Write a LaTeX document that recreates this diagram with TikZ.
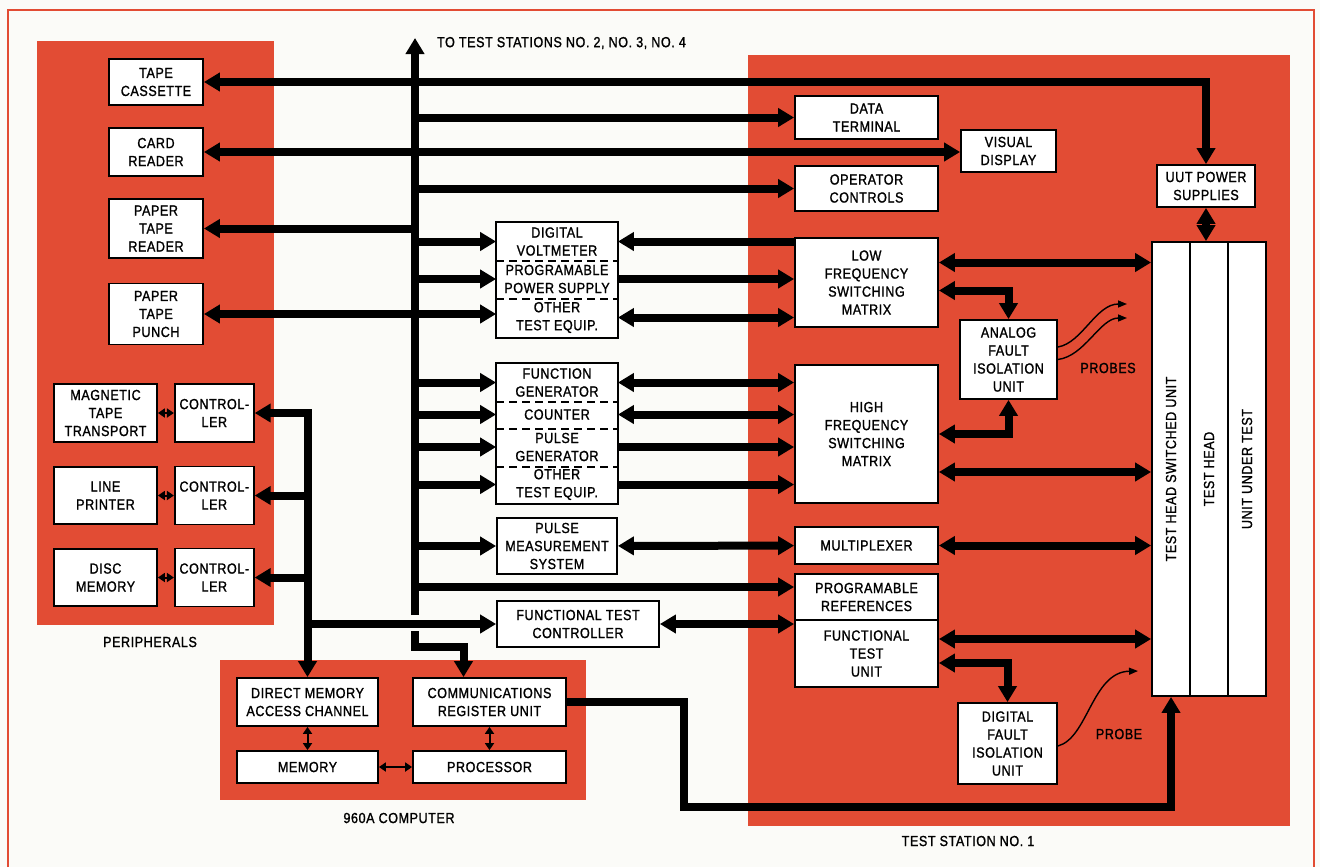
\documentclass[tikz,border=0pt]{standalone}
\usepackage{fontspec}
\setmainfont{Liberation Sans}[FakeStretch=0.86,LetterSpace=4.0,FakeBold=1.3]
\usepackage{tikz}
\usetikzlibrary{arrows.meta}
\definecolor{panelred}{RGB}{226,76,52}
\definecolor{paper}{RGB}{251,251,248}
\newcommand{\lblsize}{\fontsize{7.3}{9}\selectfont}

\begin{document}
\begin{tikzpicture}[
    x=0.5pt,y=-0.5pt,
    >={Triangle[length=8pt,width=9pt]},
    font=\lblsize,
    panel/.style={fill=panelred,draw=none},
    unit/.style={draw=black,line width=0.9pt,fill=white,align=center,inner sep=0pt},
    cell/.style={unit,draw=none,minimum width=60pt},
    bus/.style={line width=4pt},
    link/.style={line width=1pt,>={Triangle[length=3.5pt,width=4.5pt]},<->},
    probe/.style={line width=0.7pt,>={Triangle[length=4.5pt,width=3.5pt]},->},
    sep/.style={line width=0.9pt,dash pattern=on 4pt off 2.5pt}
]
% Page, frame and the three red panels.
\fill[paper] (0,0) rectangle (1320,867);
\useasboundingbox (0,0) rectangle (1320,867);
\draw[panelred,line width=1pt] (8,867) -- (8,10) -- (1314,10) -- (1314,867);
\fill[panel] (37,41) rectangle (274,625);
\fill[panel] (748,55) rectangle (1290,826);
\fill[panel] (220,660) rectangle (586,800);

% Peripherals.
\node[unit,minimum width=47pt,minimum height=23pt] (tape) at (156,82) {TAPE\\CASSETTE};
\node[unit,minimum width=47pt,minimum height=24pt] (card) at (156,152) {CARD\\READER};
\node[unit,minimum width=47pt,minimum height=29.5pt] (ptread) at (156,228.5) {PAPER\\TAPE\\READER};
\node[unit,minimum width=47pt,minimum height=30.5pt] (ptpunch) at (156,314) {PAPER\\TAPE\\PUNCH};
\node[unit,minimum width=51.5pt,minimum height=29pt] (magtape) at (105.5,413) {MAGNETIC\\TAPE\\TRANSPORT};
\node[unit,minimum width=51.5pt,minimum height=28.5pt] (printer) at (105.5,495.5) {LINE\\PRINTER};
\node[unit,minimum width=51.5pt,minimum height=28.5pt] (disc) at (105.5,577.5) {DISC\\MEMORY};
\foreach \ctl/\dev in {ctlA/magtape,ctlB/printer,ctlC/disc}{
    \node[unit,minimum width=39.5pt,minimum height=29pt,anchor=west] (\ctl) at ([xshift=8pt]\dev.east) {CONTROL-\\LER};
    \draw[link] (\dev) -- (\ctl);
}
\node (perilbl) at (150,642) {PERIPHERALS};

% Test equipment, grouped in dashed cells.
\node[cell,minimum height=18.5pt] (dvm) at (557,241.5) {DIGITAL\\VOLTMETER};
\node[cell,minimum height=19pt] (pps) at (557,279) {PROGRAMABLE\\POWER SUPPLY};
\node[cell,minimum height=19.5pt] (ote1) at (557,317.5) {OTHER\\TEST EQUIP.};
\draw[line width=0.9pt] (dvm.north west) rectangle (ote1.south east);
\draw[sep] (dvm.south west) -- (dvm.south east);
\draw[sep] (pps.south west) -- (pps.south east);

\node[cell,minimum height=18.5pt] (fg) at (557,382.5) {FUNCTION\\GENERATOR};
\node[cell,minimum height=13.5pt] (cnt) at (557,414.5) {COUNTER};
\node[cell,minimum height=19pt] (pg) at (557,447) {PULSE\\GENERATOR};
\node[cell,minimum height=18.5pt] (ote2) at (557,484.5) {OTHER\\TEST EQUIP.};
\draw[line width=0.9pt] (fg.north west) rectangle (ote2.south east);
\foreach \cellname in {fg,cnt,pg}
    \draw[sep] (\cellname.south west) -- (\cellname.south east);

\node[unit,minimum width=60pt,minimum height=28pt] (pms) at (557,546) {PULSE\\MEASUREMENT\\SYSTEM};
\node[unit,minimum width=81pt,minimum height=23pt] (ftc) at (578,624) {FUNCTIONAL TEST\\CONTROLLER};

% Computer.
\node[unit,minimum width=70.5pt,minimum height=24pt] (dma) at (307.5,702) {DIRECT MEMORY\\ACCESS CHANNEL};
\node[unit,minimum width=76.5pt,minimum height=24pt] (cru) at (489.5,702) {COMMUNICATIONS\\REGISTER UNIT};
\node[unit,minimum width=70.5pt,minimum height=16pt] (mem) at (307.5,767) {MEMORY};
\node[unit,minimum width=76.5pt,minimum height=16pt] (proc) at (489.5,767) {PROCESSOR};
\draw[link] (dma) -- (mem);
\draw[link] (cru) -- (proc);
\draw[link] (mem) -- (proc);
\node (complbl) at (399,818) {960A COMPUTER};

% Test station no. 1.
\node[unit,minimum width=71.5pt,minimum height=21.5pt] (dt) at (866.5,117.5) {DATA\\TERMINAL};
\node[unit,minimum width=47.5pt,minimum height=21pt] (vd) at (1008.5,151) {VISUAL\\DISPLAY};
\node[unit,minimum width=71.5pt,minimum height=22.5pt] (oc) at (866.5,188.5) {OPERATOR\\CONTROLS};
\node[unit,minimum width=49pt,minimum height=21pt] (uutps) at (1206,186) {UUT POWER\\SUPPLIES};
\node[unit,minimum width=71.5pt,minimum height=44.5pt] (lfsm) at (866.5,282.5) {LOW\\FREQUENCY\\SWITCHING\\MATRIX};
\node[unit,minimum width=48.5pt,minimum height=39.5pt] (afiu) at (1008.5,359.5) {ANALOG\\FAULT\\ISOLATION\\UNIT};
\node[unit,minimum width=71.5pt,minimum height=69pt] (hfsm) at (866.5,434) {HIGH\\FREQUENCY\\SWITCHING\\MATRIX};
\node[unit,minimum width=71.5pt,minimum height=18.5pt] (mux) at (866.5,545.5) {MULTIPLEXER};
\node[unit,minimum width=71.5pt,minimum height=23pt] (pref) at (866.5,597) {PROGRAMABLE\\REFERENCES};
\node[unit,minimum width=71.5pt,minimum height=33.5pt] (ftu) at (866.5,653.5) {FUNCTIONAL\\TEST\\UNIT};
\node[unit,minimum width=49.5pt,minimum height=40.5pt] (dfiu) at (1007.5,743.5) {DIGITAL\\FAULT\\ISOLATION\\UNIT};
\node[unit,minimum width=19pt,minimum height=227pt] (thsu) at (1171,469) {\rotatebox{90}{TEST HEAD SWITCHED UNIT}};
\node[unit,minimum width=19pt,minimum height=227pt] (th) at (1209,469) {\rotatebox{90}{TEST HEAD}};
\node[unit,minimum width=19pt,minimum height=227pt] (uut) at (1247,469) {\rotatebox{90}{UNIT UNDER TEST}};
\node (stationlbl) at (968,841) {TEST STATION NO. 1};
\node (probeslbl) at (1108,368) {PROBES};
\node (probelbl) at (1119,734) {PROBE};

% Main bus, broken where the controller line crosses it.
\coordinate (bustop) at (415,38);
\coordinate (busgap) at (415,615);
\coordinate (buslow) at (415,631);
\coordinate (busjog) at (415,647);
\draw[bus,->] (busgap) -- (bustop);
\draw[bus,->] (buslow) -- (busjog) -| ([xshift=-13pt]cru.north);
\node[anchor=west] (tolbl) at (430,43) {TO TEST STATIONS NO. 2, NO. 3, NO. 4};

% Branches off the main bus.
\draw[bus,<->] (tape.east) -| (uutps.north);
\draw[bus,<->] (card.east) -- (card.east -| vd.west);
\draw[bus,->] (ptread.east -| bustop) -- (ptread.east);
\draw[bus,<->] (ptpunch.east) -- (ptpunch.east -| ote1.west);
\foreach \target in {dt,oc,dvm,pps,fg,cnt,pg,ote2,pms}
    \draw[bus,->] (\target.west -| bustop) -- (\target.west);
\coordinate (prefin) at ([yshift=5pt]pref.west);
\draw[bus,->] (prefin -| bustop) -- (prefin);

% Peripheral bus from the DMA channel.
\draw[bus,<->] (ctlA.east) -| (dma.north);
\foreach \ctl in {ctlB,ctlC}
    \draw[bus,->] (\ctl.east -| dma.north) -- (\ctl.east);
\draw[bus,->] (ftc.west -| dma.north) -- (ftc.west);

% Test equipment to switching matrices.
\draw[bus,->] (lfsm.west |- dvm.east) -- (dvm.east);
\draw[bus,->] (pps.east) -- (pps.east -| lfsm.west);
\draw[bus,<->] (ote1.east) -- (ote1.east -| lfsm.west);
\draw[bus,<->] (fg.east) -- (fg.east -| hfsm.west);
\draw[bus,<->] (cnt.east) -- (cnt.east -| hfsm.west);
\draw[bus,->] (pg.east) -- (pg.east -| hfsm.west);
\draw[bus,->] (ote2.east) -- (ote2.east -| hfsm.west);
\draw[bus,<->] (pms) -- (mux);
\draw[bus,<->] (ftc.east) -- (ftc.east -| ftu.west);

% Station wiring to the test head.
\coordinate (lfout) at ([yshift=10pt]lfsm.east);
\draw[bus,<->] (lfout) -- (lfout -| thsu.west);
\draw[bus,<->] ([yshift=-4pt]lfsm.east) -| (afiu.north);
\draw[bus,<->] (hfsm.east) -| (afiu.south);
\coordinate (hfout) at ([yshift=-19pt]hfsm.east);
\draw[bus,<->] (hfout) -- (hfout -| thsu.west);
\draw[bus,<->] (mux.east) -- (mux.east -| thsu.west);
\coordinate (ftout) at ([yshift=7.25pt]ftu.east);
\draw[bus,<->] (ftout) -- (ftout -| thsu.west);
\draw[bus,<->] ([yshift=-4.75pt]ftu.east) -| (dfiu.north);
\draw[bus,<->] (uutps.south) -- (uutps.south |- th.north);
\coordinate (crujog) at (684,807);
\draw[bus,->] (cru.east) -| (crujog) -| (thsu.south);

% Probes.
\coordinate (probeA) at (1127,304);
\coordinate (probeB) at (1127,318);
\coordinate (probeC) at (1138,671);
\draw[probe] ([yshift=6.25pt]afiu.east) .. controls (1082,343) and (1096,304) .. (probeA);
\draw[probe] (afiu.east) .. controls (1085,356) and (1100,318) .. (probeB);
\draw[probe] ([yshift=-1.25pt]dfiu.east) .. controls (1088,738) and (1092,672) .. (probeC);
\end{tikzpicture}
\end{document}
